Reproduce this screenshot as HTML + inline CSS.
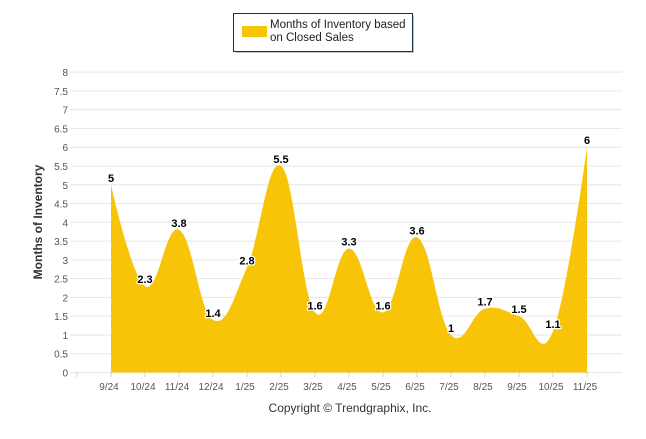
<!DOCTYPE html>
<html><head><meta charset="utf-8"><style>
body{margin:0;background:#fff;width:646px;height:434px;overflow:hidden;font-family:"Liberation Sans",Arial,sans-serif}
</style></head><body>
<svg id="s" width="646" height="434" xmlns="http://www.w3.org/2000/svg" font-family="Liberation Sans, Arial, sans-serif">
<rect x="235" y="15" width="179" height="38" fill="#8a8a8a" opacity="0.5"/>
<rect x="233.5" y="13.5" width="179" height="38" fill="#fff" stroke="#1f2d4f" stroke-width="1"/>
<rect x="242" y="26" width="25" height="11" fill="#f7c407"/>
<text x="270" y="28" font-size="11.5" fill="#222">Months of Inventory based</text>
<text x="270" y="41" font-size="11.5" fill="#222">on Closed Sales</text>
<g id="grid"></g>
<path id="area" fill="#f7c407"/>
<g id="lab"></g>
<text transform="translate(42,222) rotate(-90)" text-anchor="middle" font-size="12" font-weight="bold" fill="#333">Months of Inventory</text>
<text x="350" y="412" text-anchor="middle" font-size="12" fill="#333">Copyright © Trendgraphix, Inc.</text>
</svg>
<script>
var NS="http://www.w3.org/2000/svg";
function el(t,a,p,txt){var e=document.createElementNS(NS,t);for(var k in a)e.setAttribute(k,a[k]);if(txt!==undefined)e.textContent=txt;p.appendChild(e);return e;}
var g=document.getElementById('grid'),lab=document.getElementById('lab');
function Y(v){return 372.5-v*37.55;}
for(var i=0;i<=16;i++){var v=i/2,y=Y(v);
el('line',{x1:70,x2:622,y1:y,y2:y,stroke:'#e6e6e6','stroke-width':1},g);
el('text',{x:68,y:y+4,'text-anchor':'end','font-size':10,fill:'#555'},g,String(v));}
var cats=['9/24','10/24','11/24','12/24','1/25','2/25','3/25','4/25','5/25','6/25','7/25','8/25','9/25','10/25','11/25'];
var vals=[5,2.3,3.8,1.4,2.8,5.5,1.6,3.3,1.6,3.6,1,1.7,1.5,1.1,6];
function X(i){return 111+i*34;}
for(var i=0;i<=15;i++){el('line',{x1:77+i*34,x2:77+i*34,y1:372,y2:377,stroke:'#ccc'},g);}
cats.forEach(function(c,i){el('text',{x:X(i)-2,y:390,'text-anchor':'middle','font-size':10,fill:'#555'},g,c);});
var pts=vals.map(function(v,i){return [X(i),Y(v)];});
var s=1.5,d=s+1,cps=[];
for(var i=0;i<pts.length;i++){var p=pts[i];
if(i==0||i==pts.length-1){cps.push([p,p]);continue;}
var a=pts[i-1],b=pts[i+1];
var lx=(s*p[0]+a[0])/d,ly=(s*p[1]+a[1])/d,rx=(s*p[0]+b[0])/d,ry=(s*p[1]+b[1])/d;
var corr=((ry-ly)*(rx-p[0]))/(rx-lx)+p[1]-ry;ly+=corr;ry+=corr;
cps.push([[lx,ly],[rx,ry]]);}
var dd='M'+pts[0][0]+' '+Y(0)+' L'+pts[0][0]+' '+pts[0][1];
for(var i=1;i<pts.length;i++){var r=cps[i-1][1],l=cps[i][0];dd+=' C'+r[0]+' '+r[1]+' '+l[0]+' '+l[1]+' '+pts[i][0]+' '+pts[i][1];}
dd+=' L'+pts[pts.length-1][0]+' '+Y(0)+' Z';
document.getElementById('area').setAttribute('d',dd);
vals.forEach(function(v,i){el('text',{x:X(i),y:pts[i][1]-3,'text-anchor':'middle','font-size':11,'font-weight':'bold',fill:'#000',stroke:'#fff','stroke-width':2.5,'paint-order':'stroke','stroke-linejoin':'round'},lab,String(v));});
</script>
</body></html>
